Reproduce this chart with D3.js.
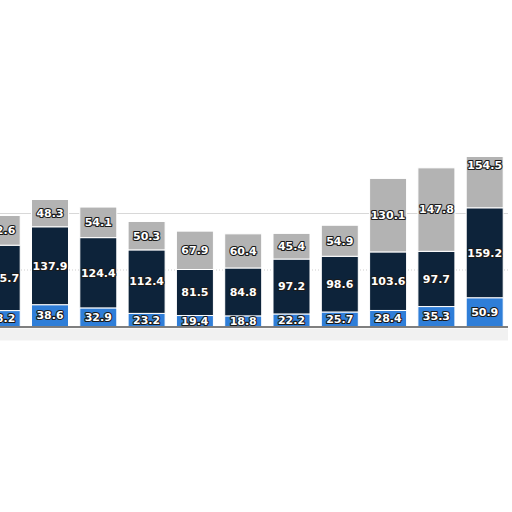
<!DOCTYPE html>
<html>
<head>
<meta charset="utf-8">
<script src="https://cdn.jsdelivr.net/npm/d3@7"></script>
<style>
  body { margin: 0; background: #fff; }
  svg { display: block; }
  .label { font-family: "DejaVu Sans", sans-serif; font-weight: bold; font-size: 11px;
           fill: #fff; stroke: #1a1a1a; stroke-width: 2.2px; paint-order: stroke; stroke-linejoin: round; }
</style>
</head>
<body>
<script>
const categories = ['c1', 'c2', 'c3', 'c4', 'c5', 'c6', 'c7', 'c8', 'c9', 'c10', 'c11', 'c12'];
const bottomSeries = [28.2, 38.6, 32.9, 23.2, 19.4, 18.8, 22.2, 25.7, 28.4, 35.3, 50.9, 0];
const middleSeries = [115.7, 137.9, 124.4, 112.4, 81.5, 84.8, 97.2, 98.6, 103.6, 97.7, 159.2, 0];
const topSeries = [52.6, 48.3, 54.1, 50.3, 67.9, 60.4, 45.4, 54.9, 130.1, 147.8, 154.5, 0];
const gridValues = [100, 200];

const width = 512;
const height = 512;
const svg = d3.select('body').append('svg')
    .attr('width', width)
    .attr('height', height);

const plot = { top: 157, bottom: 326.5, left: -22.45, right: 557.15 };

// 11 bars visible, the 12th slot is off to the right
const xScale = d3.scaleBand()
    .domain(categories)
    .range([plot.left, plot.right])
    .paddingInner(0.234)
    .paddingOuter(0.117);

const yScale = d3.scaleLinear()
    .domain([0, 300])
    .range([plot.bottom, plot.top]);

// gridlines
svg.append('g').selectAll('line')
    .data(gridValues)
    .enter()
    .append('line')
    .attr('x1', 0).attr('x2', 508)
    .attr('y1', d => yScale(d)).attr('y2', d => yScale(d))
    .attr('stroke', d => d === 100 ? '#cfcfcf' : '#d8d8d8')
    .attr('stroke-width', 1)
    .attr('stroke-dasharray', d => d === 100 ? '1,2' : null);

const stackData = categories.map((c, i) => ({
    cat: c, bottom: bottomSeries[i], middle: middleSeries[i], top: topSeries[i]
})).filter(d => d.bottom + d.middle + d.top > 0);

const keys = ['bottom', 'middle', 'top'];
const colors = { bottom: '#2f7ed8', middle: '#0d233a', top: '#b3b3b3' };
const stacked = d3.stack().keys(keys)(stackData);

const clip = svg.append('clipPath').attr('id', 'plotclip')
    .append('rect')
    .attr('x', 0).attr('y', plot.top)
    .attr('width', width).attr('height', plot.bottom - plot.top);

const bars = svg.append('g').attr('clip-path', 'url(#plotclip)');
stacked.forEach(layer => {
    bars.append('g').attr('class', layer.key)
        .selectAll('rect')
        .data(layer)
        .enter()
        .append('rect')
        .attr('x', d => xScale(d.data.cat))
        .attr('width', xScale.bandwidth())
        .attr('y', d => yScale(d[1]))
        .attr('height', d => yScale(d[0]) - yScale(d[1]))
        .attr('fill', colors[layer.key])
        .attr('stroke', '#fff')
        .attr('stroke-width', 1);
});

// data labels, kept inside the visible plot area
const labels = svg.append('g');
stacked.forEach(layer => {
    labels.selectAll('text.' + layer.key)
        .data(layer)
        .enter()
        .append('text')
        .attr('class', 'label ' + layer.key)
        .attr('x', d => xScale(d.data.cat) + xScale.bandwidth() / 2)
        .attr('y', d => {
            const top = Math.max(yScale(d[1]), plot.top);
            const mid = (top + yScale(d[0])) / 2;
            return Math.min(mid, Math.max(mid, top + 8));
        })
        .attr('text-anchor', 'middle')
        .attr('dy', '0.35em')
        .text(d => (d[1] - d[0]).toFixed(1));
});

// clipped tall bar: label sits at the top of the visible part
labels.selectAll('text.top')
    .filter(d => yScale(d[1]) < plot.top)
    .attr('y', plot.top + 8);

// baseline and its soft shadow
svg.append('rect')
    .attr('x', 0).attr('y', plot.bottom + 2)
    .attr('width', 508).attr('height', 12)
    .attr('fill', '#f1f1f1');
svg.append('line')
    .attr('x1', 0).attr('x2', 508)
    .attr('y1', plot.bottom + 0.5).attr('y2', plot.bottom + 0.5)
    .attr('stroke', '#555')
    .attr('stroke-width', 1.5);
</script>
</body>
</html>
